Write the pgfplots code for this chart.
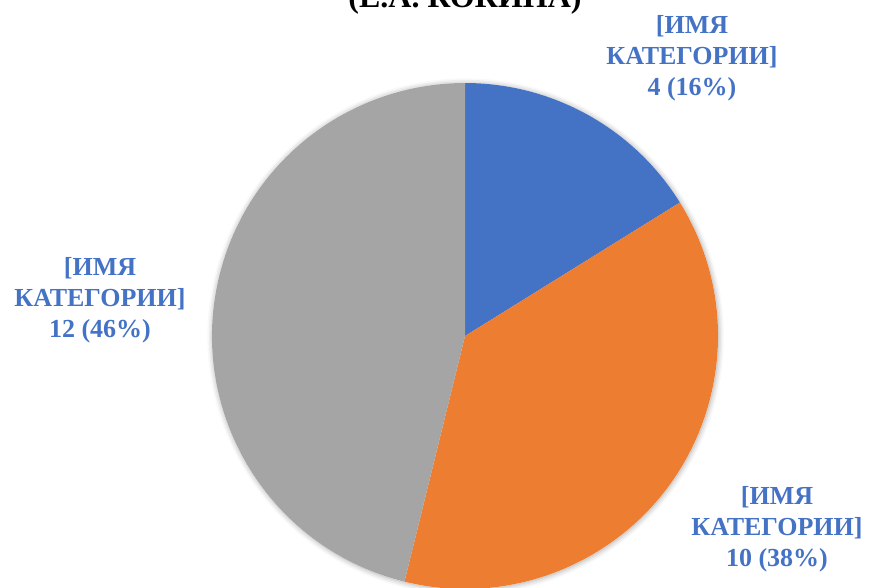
\documentclass[border=0pt]{standalone}
\usepackage{fontspec}
\setmainfont{Liberation Serif}
\usepackage{pgfplots}
\usepackage{pgfplotstable}
\usetikzlibrary{shadows.blur}
\pgfplotsset{compat=1.18}
\definecolor{cBlue}{HTML}{4472C4}
\definecolor{cOrange}{HTML}{ED7D31}
\definecolor{cGray}{HTML}{A5A5A5}
\definecolor{cLabel}{HTML}{4472C4}

\pgfplotstableread{
value col
4.2  cBlue
9.8  cOrange
12.0 cGray
}\piedata

\begin{document}
\begin{tikzpicture}[x=0.75pt,y=0.75pt]
\useasboundingbox (0,0) rectangle (872,587);
\begin{axis}[
  at={(0,0)}, anchor=south west,
  scale only axis, width=654pt, height=440.25pt,
  xmin=0, xmax=872, ymin=0, ymax=587,
  hide axis, clip=false,
]
\fill[white, blur shadow={shadow xshift=0.5pt, shadow yshift=-0.5pt, shadow blur radius=4pt, shadow opacity=35}] (axis cs:465,251) circle[radius=189.75pt];
\pgfplotstablegetrowsof{\piedata}
\pgfmathtruncatemacro\N{\pgfplotsretval-1}
\gdef\total{0}
\pgfplotsforeachungrouped \i in {0,...,\N}{%
  \pgfplotstablegetelem{\i}{value}\of\piedata
  \pgfmathsetmacro\tmp{\total+\pgfplotsretval}%
  \global\let\total=\tmp
}
\gdef\curang{90}
\pgfplotsforeachungrouped \i in {0,...,\N}{%
  \pgfplotstablegetelem{\i}{value}\of\piedata
  \let\v=\pgfplotsretval
  \pgfplotstablegetelem{\i}{col}\of\piedata
  \let\c=\pgfplotsretval
  \pgfmathsetmacro\a{\curang}%
  \pgfmathsetmacro\b{\curang-360*\v/\total}%
  \edef\temp{\noexpand\fill[\c] (axis cs:465,251) -- ++(\a:189.75pt) arc[start angle=\a,end angle=\b,radius=189.75pt] -- cycle;}%
  \temp
  \global\let\curang=\b
}
\node[anchor=base, font=\fontsize{24}{28}\selectfont\bfseries] at (axis cs:465,579) {(Е.А. КОКИНА)};
\tikzset{lbl/.style={align=center, text=cLabel, font=\fontsize{19.5}{23.25}\selectfont\bfseries, inner sep=0pt}}
\node[lbl] at (axis cs:692,529) {[ИМЯ\\КАТЕГОРИИ]\\4 (16\%)};
\node[lbl] at (axis cs:100,287) {[ИМЯ\\КАТЕГОРИИ]\\12 (46\%)};
\node[lbl] at (axis cs:777,58) {[ИМЯ\\КАТЕГОРИИ]\\10 (38\%)};
\end{axis}
\end{tikzpicture}
\end{document}
